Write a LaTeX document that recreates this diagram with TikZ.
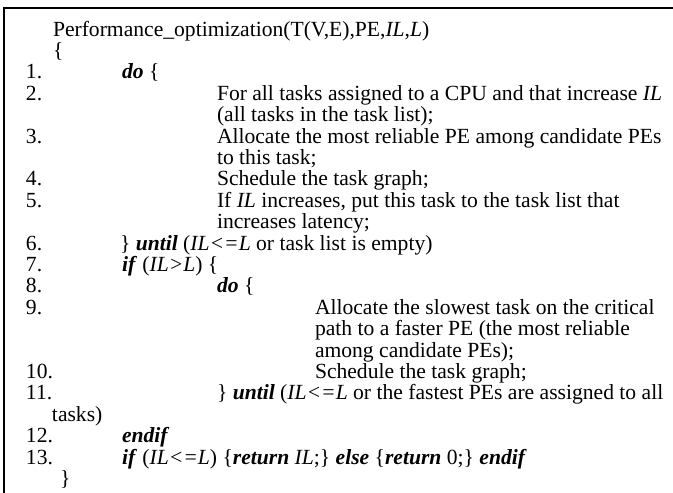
\documentclass[tikz,border=0pt]{standalone}
\usepackage{fontspec}
\setmainfont{Liberation Serif}
\begin{document}
\begin{tikzpicture}[x=1pt,y=1pt,
  txt/.style={anchor=base west,inner sep=0pt,outer sep=0pt,font=\fontsize{21.6}{22}\selectfont},
  frame/.style={line width=2pt,line cap=rect}]
\useasboundingbox (0,0) rectangle (673,-493);
\newcommand{\kw}[1]{\textbf{\textit{#1}}}
\def\ls{21.4}
\def\yb{36}
% frame (top and left rules)
\coordinate (tl) at (3.5,-7.5);
\coordinate (tr) at (673,-7.5);
\coordinate (bl) at (3.5,-493);
\draw[frame] (tr) -- (tl) -- (bl);
% header
\node[txt] (head) at (53,{-(\yb+0*\ls)}) {Performance\_optimization(T(V,E),PE,\textit{IL},\textit{L})};
\node[txt] (ob) at (53,{-(\yb+1*\ls)}) {\{};
% line numbers
\node[txt] (n1)  at (26,{-(\yb+2*\ls)}) {1.};
\node[txt] (n2)  at (26,{-(\yb+3*\ls)}) {2.};
\node[txt] (n3)  at (26,{-(\yb+5*\ls)}) {3.};
\node[txt] (n4)  at (26,{-(\yb+7*\ls)}) {4.};
\node[txt] (n5)  at (26,{-(\yb+8*\ls)}) {5.};
\node[txt] (n6)  at (26,{-(\yb+10*\ls)}) {6.};
\node[txt] (n7)  at (26,{-(\yb+11*\ls)}) {7.};
\node[txt] (n8)  at (26,{-(\yb+12*\ls)}) {8.};
\node[txt] (n9)  at (26,{-(\yb+13*\ls)}) {9.};
\node[txt] (n10) at (26,{-(\yb+16*\ls)}) {10.};
\node[txt] (n11) at (26,{-(\yb+17*\ls)}) {11.};
\node[txt] (n12) at (26,{-(\yb+19*\ls)}) {12.};
\node[txt] (n13) at (26,{-(\yb+20*\ls)}) {13.};
% code
\node[txt] (c1)  at (122,{-(\yb+2*\ls)}) {\kw{do} \{};
\node[txt] (c2a) at (217,{-(\yb+3*\ls)}) {For all tasks assigned to a CPU and that increase \textit{IL}};
\node[txt] (c2b) at (217,{-(\yb+4*\ls)}) {(all tasks in the task list);};
\node[txt] (c3a) at (217,{-(\yb+5*\ls)}) {Allocate the most reliable PE among candidate PEs};
\node[txt] (c3b) at (217,{-(\yb+6*\ls)}) {to this task;};
\node[txt] (c4)  at (217,{-(\yb+7*\ls)}) {Schedule the task graph;};
\node[txt] (c5a) at (217,{-(\yb+8*\ls)}) {If \textit{IL} increases, put this task to the task list that};
\node[txt] (c5b) at (217,{-(\yb+9*\ls)}) {increases latency;};
\node[txt] (c6)  at (120,{-(\yb+10*\ls)}) {\} \kw{until} (\textit{IL<=L} or task list is empty)};
\node[txt] (c7)  at (122,{-(\yb+11*\ls)}) {\kw{if} (\textit{IL>L}) \{};
\node[txt] (c8)  at (217,{-(\yb+12*\ls)}) {\kw{do} \{};
\node[txt] (c9a) at (315,{-(\yb+13*\ls)}) {Allocate the slowest task on the critical};
\node[txt] (c9b) at (315,{-(\yb+14*\ls)}) {path to a faster PE (the most reliable};
\node[txt] (c9c) at (315,{-(\yb+15*\ls)}) {among candidate PEs);};
\node[txt] (c10) at (315,{-(\yb+16*\ls)}) {Schedule the task graph;};
\node[txt] (c11a) at (217,{-(\yb+17*\ls)}) {\} \kw{until} (\textit{IL<=L} or the fastest PEs are assigned to all};
\node[txt] (c11b) at (52,{-(\yb+18*\ls)}) {tasks)};
\node[txt] (c12) at (122,{-(\yb+19*\ls)}) {\kw{endif}};
\node[txt] (c13) at (122,{-(\yb+20*\ls)}) {\kw{if} (\textit{IL<=L}) \{\kw{return} \textit{IL};\} \kw{else} \{\kw{return} 0;\} \kw{endif}};
\node[txt] (cb)  at (60,{-(\yb+21*\ls)}) {\}};
\end{tikzpicture}
\end{document}
